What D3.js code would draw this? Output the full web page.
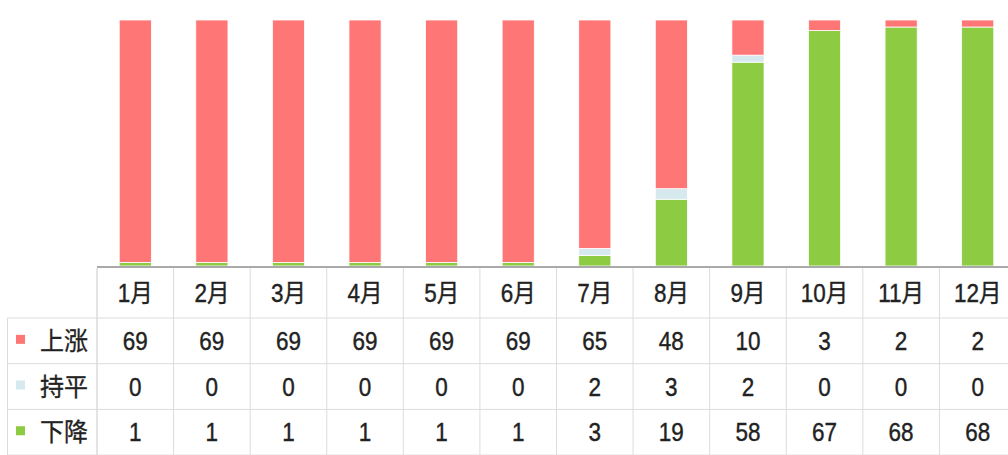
<!DOCTYPE html>
<html>
<head>
<meta charset="utf-8">
<script src="https://cdn.jsdelivr.net/npm/d3@7"></script>
<style>
  html, body { margin: 0; padding: 0; background: #fff; }
  svg { display: block; }
</style>
</head>
<body>
<svg id="chart" width="1008" height="455"></svg>
<script>
const months = ["1月","2月","3月","4月","5月","6月","7月","8月","9月","10月","11月","12月"];
const seriesNames = ["上涨","持平","下降"];
const up   = [69, 69, 69, 69, 69, 69, 65, 48, 10, 3, 2, 2];
const flat = [0, 0, 0, 0, 0, 0, 2, 3, 2, 0, 0, 0];
const down = [1, 1, 1, 1, 1, 1, 3, 19, 58, 67, 68, 68];
const colors = ["#ff7676", "#d6e9ee", "#8dcb42"];

const svg = d3.select("#chart");
const W = 1008;
const tableLeft = 97, tableRight = 1016;
const plotTop = 20, baseY = 266;
const headerTop = 267, headerBottom = 318, rowH = 45.7;

const x = d3.scaleBand().domain(months).range([tableLeft, tableRight])
  .paddingInner(0.58).paddingOuter(0.29);
const step = x.step();
const y = d3.scaleLinear().domain([0, 1]).range([baseY, plotTop]);

// stack: 下降 at bottom, 持平, 上涨 on top
const rows = months.map((m, i) => ({ m, "上涨": up[i], "持平": flat[i], "下降": down[i] }));
const stackKeys = ["下降", "持平", "上涨"];
const stack = d3.stack().keys(stackKeys).offset(d3.stackOffsetExpand);
const layers = stack(rows);
const colorOf = k => colors[seriesNames.indexOf(k)];

svg.append("g").selectAll("g").data(layers).join("g")
  .attr("fill", d => colorOf(d.key))
  .selectAll("rect").data(d => d.filter(p => p[1] - p[0] > 0)).join("rect")
  .attr("x", d => x(d.data.m))
  .attr("width", x.bandwidth())
  .attr("y", d => y(d[1]))
  .attr("height", d => y(d[0]) - y(d[1]))
  .attr("stroke", "#fff").attr("stroke-width", 0.8);

// baseline
svg.append("line").attr("x1", tableLeft).attr("x2", W)
  .attr("y1", baseY + 1).attr("y2", baseY + 1)
  .attr("stroke", "#a9a9a9").attr("stroke-width", 2);

// table grid
const grid = svg.append("g").attr("stroke", "#dcdcdc").attr("stroke-width", 1);
const colEdges = d3.range(13).map(i => tableLeft + i * step);
colEdges.forEach((cx, i) => {
  grid.append("line").attr("x1", cx).attr("x2", cx)
    .attr("y1", headerTop + 1).attr("y2", 455).attr("stroke", i === 0 ? "#c8c8c8" : "#dcdcdc");
});
grid.append("line").attr("x1", 7.5).attr("x2", 7.5).attr("y1", headerBottom).attr("y2", 455);
[0, 1, 2, 3].forEach(r => {
  const yy = headerBottom + r * rowH;
  grid.append("line").attr("x1", 7.5).attr("x2", W).attr("y1", yy).attr("y2", yy);
});

const font = "'Liberation Sans', Arial, 'Noto Sans CJK SC', sans-serif";
const cx = m => x(m) + x.bandwidth() / 2;

// header
svg.append("g").selectAll("text").data(months).join("text")
  .attr("transform", m => `translate(${cx(m)},${(headerTop + headerBottom) / 2}) scale(1,1.12)`)
  .attr("text-anchor", "middle").attr("dy", "0.36em")
  .attr("font-family", font).attr("font-size", 22.5).attr("fill", "#222")
  .attr("stroke", "#222").attr("stroke-width", 0.35)
  .text(m => m);

const seriesVals = [up, flat, down];
seriesNames.forEach((name, r) => {
  const cy = headerBottom + r * rowH + rowH / 2;
  svg.append("rect").attr("x", 16).attr("y", cy - 6).attr("width", 9).attr("height", 9)
    .attr("fill", colors[r]);
  svg.append("text")
    .attr("transform", `translate(64,${cy}) scale(1,1.05)`)
    .attr("text-anchor", "middle").attr("dy", "0.36em")
    .attr("font-family", font).attr("font-size", 24).attr("fill", "#222")
    .attr("stroke", "#222").attr("stroke-width", 0.3)
    .text(name);
  svg.append("g").selectAll("text").data(months).join("text")
    .attr("transform", (m) => `translate(${cx(m)},${cy}) scale(1,1.12)`)
    .attr("text-anchor", "middle").attr("dy", "0.36em")
    .attr("font-family", font).attr("font-size", 22.5).attr("fill", "#222")
    .attr("stroke", "#222").attr("stroke-width", 0.35)
    .text((m, i) => seriesVals[r][i]);
});
</script>
</body>
</html>
